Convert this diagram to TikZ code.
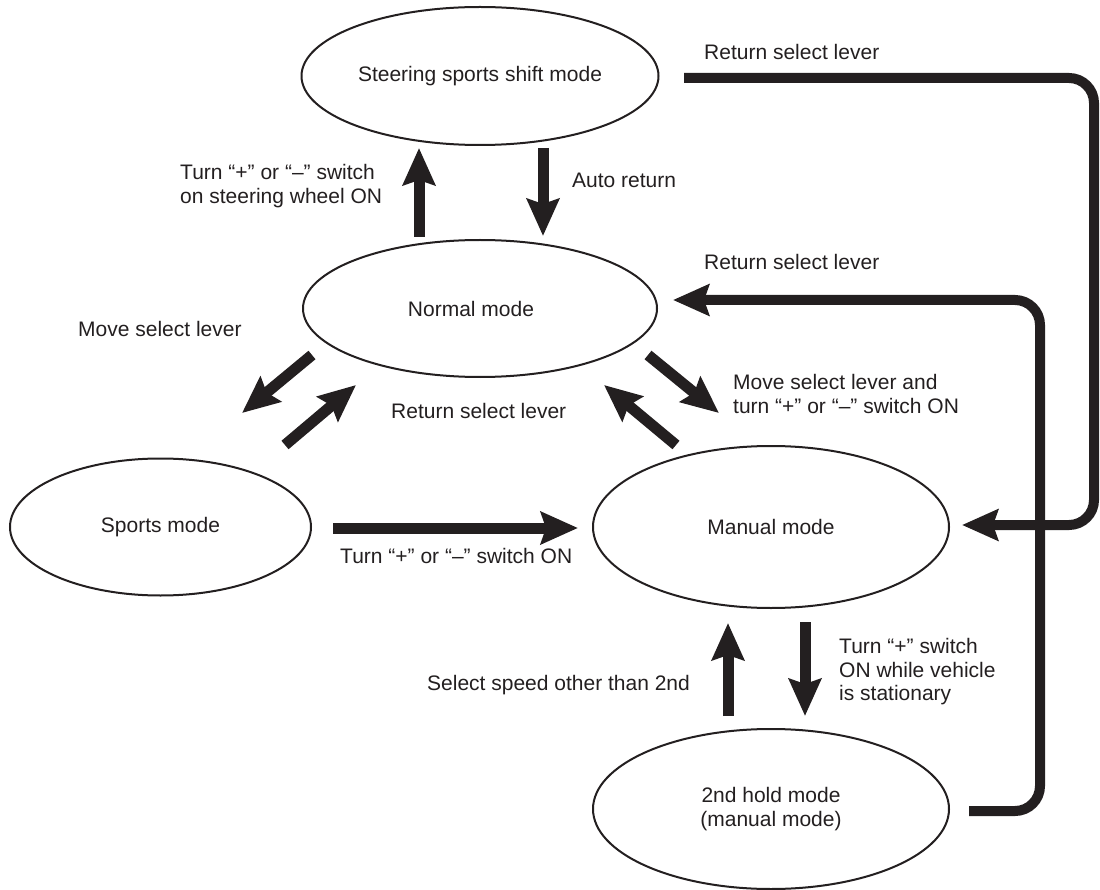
\documentclass[tikz,border=0pt]{standalone}
\usepackage{fontspec}
\setmainfont{Liberation Sans}
\usetikzlibrary{arrows.meta,shapes.geometric}
\definecolor{ink}{RGB}{35,31,32}
\tikzset{
  mode/.style={ellipse,draw=ink,line width=2pt,inner sep=0pt,outer sep=0pt,text=ink,
    font=\fontsize{21}{24}\selectfont,align=center},
  lbl/.style={anchor=base west,inner sep=0pt,text=ink,font=\fontsize{21}{24}\selectfont},
  big/.style={draw=ink,line width=11pt,-{Stealth[length=37pt,width=32pt,inset=5pt]}},
  route/.style={draw=ink,line width=10pt,rounded corners=25pt,-{Stealth[length=36pt,width=31pt,inset=5pt]}}
}
\begin{document}
\begin{tikzpicture}[x=1pt,y=-1pt]
\useasboundingbox (0,0) rectangle (1100,890);
% states
\node[mode,minimum width=357,minimum height=138] (steer) at (480,76) {Steering sports shift mode};
\node[mode,minimum width=354,minimum height=137] (normal) at (480,308.5) {\hspace*{-18pt}Normal mode};
\node[mode,minimum width=301,minimum height=137] (sports) at (160.5,527) {Sports mode};
\node[mode,minimum width=356,minimum height=162] (manual) at (771,527) {Manual mode};
\node[mode,minimum width=356,minimum height=160] (hold) at (771,809) {2nd hold mode\\(manual mode)};
% arrow end points
\coordinate (a1s) at (419,237); \coordinate (a1e) at (419,148);
\coordinate (a2s) at (543,148); \coordinate (a2e) at (543,236);
\coordinate (a3s) at (312,355); \coordinate (a3e) at (242,413);
\coordinate (a4s) at (285,445); \coordinate (a4e) at (356,385);
\coordinate (a5s) at (648,355); \coordinate (a5e) at (719,413);
\coordinate (a6s) at (676,445); \coordinate (a6e) at (604,385);
\coordinate (a7s) at (333,528); \coordinate (a7e) at (578,528);
\coordinate (a8s) at (728,716); \coordinate (a8e) at (728,623);
\coordinate (a9s) at (805,622); \coordinate (a9e) at (805,716);
\coordinate (r1s) at (684,78); \coordinate (r1e) at (962,525);
\coordinate (r2s) at (969,811); \coordinate (r2e) at (673,300);
% arrows
\draw[big] (a1s) -- (a1e);
\draw[big] (a2s) -- (a2e);
\draw[big] (a3s) -- (a3e);
\draw[big] (a4s) -- (a4e);
\draw[big] (a5s) -- (a5e);
\draw[big] (a6s) -- (a6e);
\draw[big] (a7s) -- (a7e);
\draw[big] (a8s) -- (a8e);
\draw[big] (a9s) -- (a9e);
\draw[route] (r1s) -- (1094,78) -- (1094,525) -- (r1e);
\draw[route] (r2s) -- (1040,811) -- (1040,300) -- (r2e);
% labels
\node[lbl] (l1) at (704,60) {Return select lever};
\node[lbl] (l2a) at (180,180) {Turn “+” or “–” switch};
\node[lbl] (l2b) at (180,203.5) {on steering wheel ON};
\node[lbl] (l3) at (572,188) {Auto return};
\node[lbl] (l4) at (704,270) {Return select lever};
\node[lbl] (l5) at (78,337) {Move select lever};
\node[lbl] (l6) at (391,418) {Return select lever};
\node[lbl] (l7a) at (733,389) {Move select lever and};
\node[lbl] (l7b) at (733,413) {turn “+” or “–” switch ON};
\node[lbl] (l8) at (340,563) {Turn “+” or “–” switch ON};
\node[lbl] (l9a) at (839,653) {Turn “+” switch};
\node[lbl] (l9b) at (839,677) {ON while vehicle};
\node[lbl] (l9c) at (839,700) {is stationary};
\node[lbl] (l10) at (427,690) {Select speed other than 2nd};
\end{tikzpicture}
\end{document}
